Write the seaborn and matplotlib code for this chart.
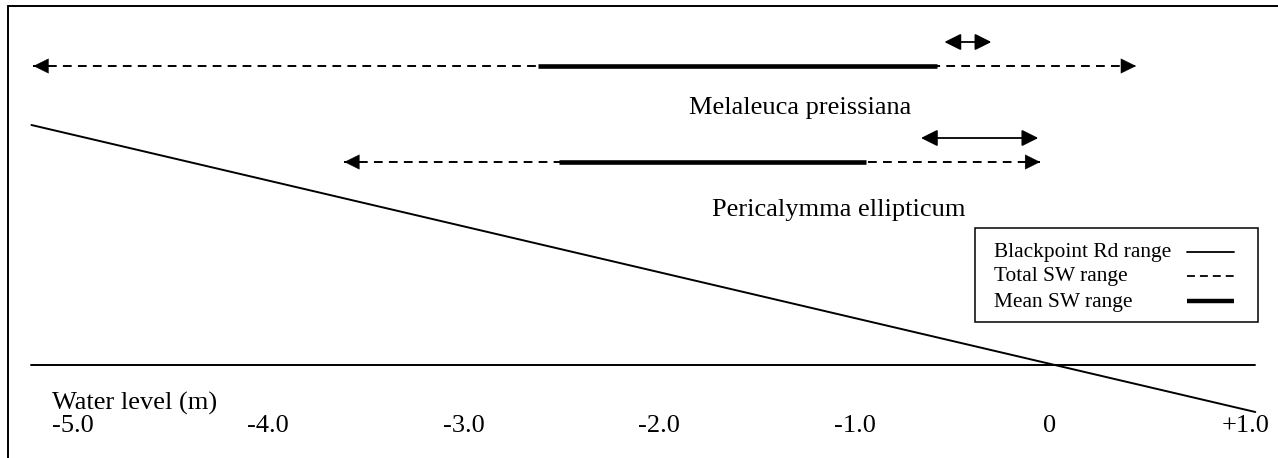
import numpy as np
import pandas as pd
import matplotlib
matplotlib.use("Agg")
import matplotlib.pyplot as plt
from matplotlib.lines import Line2D
from matplotlib.patches import Rectangle
import seaborn as sns

# ---------------- data (water level, m) ----------------
species = ["Melaleuca preissiana", "Pericalymma ellipticum"]
total_min = [-5.20, -3.61]     # Total SW range (dashed)
total_max = [0.44, -0.05]
mean_min = [-2.62, -2.51]      # Mean SW range (thick)
mean_max = [-0.58, -0.94]
bp_min = [-0.54, -0.66]        # Blackpoint Rd range (double arrow)
bp_max = [-0.30, -0.06]
tick_values = [-5.0, -4.0, -3.0, -2.0, -1.0, 0.0, 1.0]
tick_labels = ["-5.0", "-4.0", "-3.0", "-2.0", "-1.0", "0", "+1.0"]
surface_x = [-5.21, 1.05]      # sloping schematic line
legend_labels = ["Blackpoint Rd range", "Total SW range", "Mean SW range"]

# ---------------- layout ----------------
W, H = 1278, 458
PX0, PXM = 1050.0, 195.5          # pixel of 0 m, pixels per metre
row_y = [66, 162]                 # layout rows (pixels from top)
bp_dy = -24
label_px = [800, 839]
label_dy = [42, 48]
surface_y = [125, 412]
base_y = 365
tick_y = 426
DASH = (0, (4.5, 3.2))

sns.set_style("white")
plt.rcParams["font.family"] = ["Liberation Serif", "DejaVu Serif"]
plt.rcParams["text.color"] = "black"

fig = plt.figure(figsize=(W / 100, H / 100), dpi=100)
ax = fig.add_axes([0, 0, 1, 1])
ax.set_xlim(-PX0 / PXM, (W - PX0) / PXM)
ax.set_ylim(H, 0)
ax.axis("off")

def px2x(p):
    return (p - PX0) / PXM

HL = 15 / PXM
head_style = "-|>,head_length=10.5,head_width=5.2"

def head(x_tip, y, direction):
    ax.annotate("", xy=(x_tip, y), xytext=(x_tip - direction * HL, y),
                arrowprops=dict(arrowstyle=head_style, mutation_scale=1,
                                color="black", lw=0.3, shrinkA=0, shrinkB=0))

# baseline and sloping line
sns.lineplot(x=surface_x, y=[base_y, base_y], ax=ax, color="black", lw=1.4, legend=False)
sns.lineplot(x=surface_x, y=surface_y, ax=ax, color="black", lw=1.4, legend=False)

for i, name in enumerate(species):
    y = row_y[i]
    # total range dashed
    sns.lineplot(x=[total_min[i], total_max[i]], y=[y, y], ax=ax, color="black",
                 lw=1.4, linestyle=DASH, legend=False)
    head(total_min[i], y, -1)
    head(total_max[i], y, 1)
    # mean range thick
    sns.lineplot(x=[mean_min[i], mean_max[i]], y=[y, y], ax=ax, color="black",
                 lw=3.3, legend=False, solid_capstyle="butt")
    # Blackpoint Rd range double arrow
    ax.annotate("", xy=(bp_max[i], y + bp_dy), xytext=(bp_min[i], y + bp_dy),
                arrowprops=dict(arrowstyle="<|-|>,head_length=10,head_width=5",
                                mutation_scale=1, color="black", lw=1.3,
                                shrinkA=0, shrinkB=0))
    ax.text(px2x(label_px[i]), y + label_dy[i], name, ha="center", va="center",
            fontsize=19)

# axis labels
ax.text(52 / W, 1 - 403 / H, "Water level (m)", transform=ax.transAxes,
        ha="left", va="center", fontsize=19)
for v, lab in zip(tick_values, tick_labels):
    ax.text(v, tick_y, lab, ha="center", va="center", fontsize=19)

# legend (drawn as a box with text on the left and line samples on the right)
ta = ax.transAxes
ax.add_patch(Rectangle((975 / W, 1 - 322 / H), (1258 - 975) / W, (322 - 228) / H,
                       transform=ta, fill=False, edgecolor="black", lw=1.1))
leg_rows = [252, 276, 301]
leg_styles = [dict(lw=1.3), dict(lw=1.3, ls=(0, (4.4, 2.75))),
              dict(lw=3.2, solid_capstyle="butt")]
for lab, yy, st in zip(legend_labels, leg_rows, leg_styles):
    ax.text(994 / W, 1 - (yy + 1) / H, lab, transform=ta, ha="left", va="center",
            fontsize=15.4)
    ax.add_line(Line2D([1187 / W, 1234 / W], [1 - yy / H, 1 - yy / H],
                       transform=ta, color="black", **st))

# outer frame (only top and left visible)
fig.add_artist(Line2D([7.5 / W, 1], [1 - 5.5 / H, 1 - 5.5 / H], color="black",
                      lw=1.4, transform=fig.transFigure))
fig.add_artist(Line2D([7.5 / W, 7.5 / W], [0, 1 - 5.5 / H], color="black",
                      lw=1.4, transform=fig.transFigure))

fig.savefig("out.png", dpi=100, facecolor="white")
